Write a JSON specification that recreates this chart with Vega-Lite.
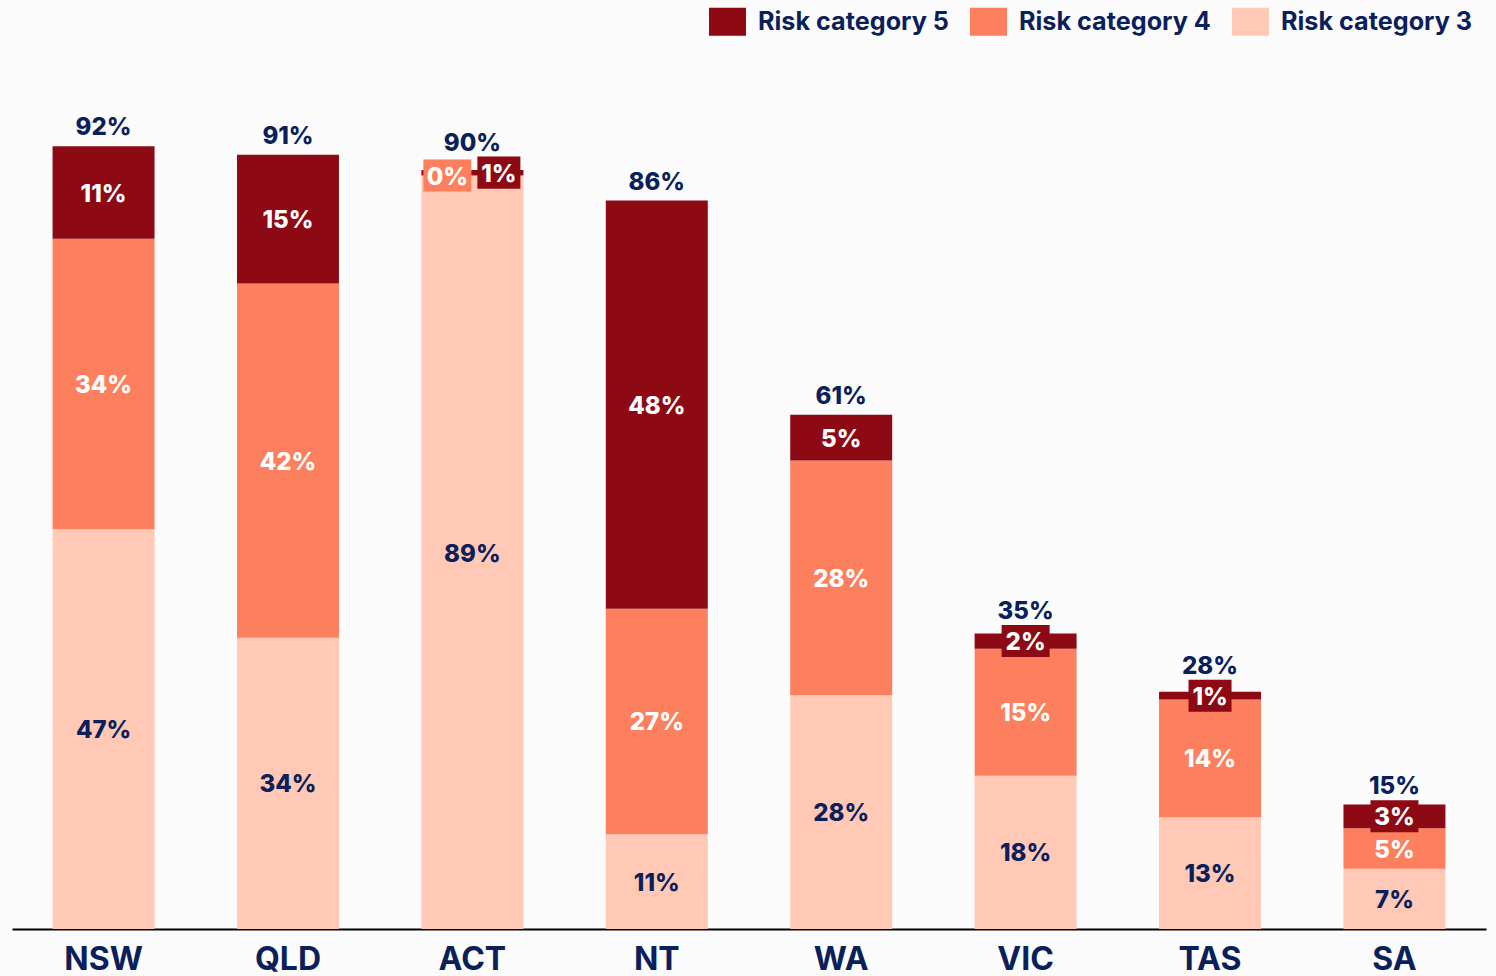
{
  "$schema": "https://vega.github.io/schema/vega-lite/v6.json",
  "width": 1474,
  "height": 847,
  "autosize": {"type": "none"},
  "padding": {"left": 12, "top": 82, "right": 10, "bottom": 47},
  "background": "#fbfbfb",
  "config": {
    "view": {"stroke": null},
    "font": "Inter"
  },
  "data": {
    "values": [
      {"state": "NSW", "category": "Risk category 3", "value": 0.472},
      {"state": "NSW", "category": "Risk category 4", "value": 0.343},
      {"state": "NSW", "category": "Risk category 5", "value": 0.109},
      {"state": "QLD", "category": "Risk category 3", "value": 0.344},
      {"state": "QLD", "category": "Risk category 4", "value": 0.418},
      {"state": "QLD", "category": "Risk category 5", "value": 0.152},
      {"state": "ACT", "category": "Risk category 3", "value": 0.889},
      {"state": "ACT", "category": "Risk category 4", "value": 0.001},
      {"state": "ACT", "category": "Risk category 5", "value": 0.006},
      {"state": "NT", "category": "Risk category 3", "value": 0.112},
      {"state": "NT", "category": "Risk category 4", "value": 0.266},
      {"state": "NT", "category": "Risk category 5", "value": 0.482},
      {"state": "WA", "category": "Risk category 3", "value": 0.276},
      {"state": "WA", "category": "Risk category 4", "value": 0.277},
      {"state": "WA", "category": "Risk category 5", "value": 0.054},
      {"state": "VIC", "category": "Risk category 3", "value": 0.181},
      {"state": "VIC", "category": "Risk category 4", "value": 0.150},
      {"state": "VIC", "category": "Risk category 5", "value": 0.018},
      {"state": "TAS", "category": "Risk category 3", "value": 0.132},
      {"state": "TAS", "category": "Risk category 4", "value": 0.139},
      {"state": "TAS", "category": "Risk category 5", "value": 0.009},
      {"state": "SA", "category": "Risk category 3", "value": 0.071},
      {"state": "SA", "category": "Risk category 4", "value": 0.048},
      {"state": "SA", "category": "Risk category 5", "value": 0.028}
    ]
  },
  "transform": [
    {"stack": "value", "groupby": ["state"], "sort": [{"field": "category", "order": "ascending"}], "as": ["v0", "v1"]},
    {"fold": ["v0", "v1"], "as": ["edge", "pos"]},
    {"aggregate": [{"op": "mean", "field": "pos", "as": "mid"}], "groupby": ["state", "category", "value", "v0", "v1"]}
  ],
  "encoding": {
    "x": {
      "field": "state",
      "type": "nominal",
      "sort": ["NSW", "QLD", "ACT", "NT", "WA", "VIC", "TAS", "SA"],
      "scale": {"paddingInner": 0.447, "paddingOuter": 0.22},
      "axis": {
        "title": null,
        "labelAngle": 0,
        "ticks": false,
        "domainColor": "#000000",
        "domainWidth": 2,
        "labelFont": "Inter",
        "labelFontSize": 32,
        "labelFontWeight": "bold",
        "labelColor": "#0b1f5b",
        "labelPadding": 15
      }
    }
  },
  "layer": [
    {
      "mark": {"type": "bar"},
      "encoding": {
        "y": {"field": "v0", "type": "quantitative", "scale": {"domain": [0, 1]}, "axis": null},
        "y2": {"field": "v1"},
        "color": {
          "field": "category",
          "type": "nominal",
          "scale": {
            "domain": ["Risk category 5", "Risk category 4", "Risk category 3"],
            "range": ["#8d0a14", "#fc7f5e", "#ffc9b6"]
          },
          "legend": {
            "title": null,
            "orient": "none",
            "legendX": 697,
            "legendY": -79,
            "direction": "horizontal",
            "padding": 0,
            "symbolType": "M-1,-0.757H1V0.757H-1Z",
            "symbolSize": 1369,
            "symbolStrokeWidth": 0,
            "symbolOpacity": 1,
            "labelFont": "Inter",
            "labelFontSize": 25.2,
            "labelFontWeight": "bold",
            "labelColor": "#0b1f5b",
            "labelOffset": 12,
            "columnPadding": 21,
            "labelLimit": 400
          }
        }
      }
    },
    {
      "transform": [{"filter": "datum.value >= 0.04"}],
      "mark": {"type": "text", "font": "Inter", "fontSize": 24, "fontWeight": 800, "baseline": "middle", "dy": 2},
      "encoding": {
        "y": {"field": "mid", "type": "quantitative"},
        "text": {"field": "value", "type": "quantitative", "format": ".0%"},
        "color": {"condition": {"test": "datum.category == 'Risk category 3'", "value": "#0b1f5b"}, "value": "#ffffff"}
      }
    },
    {
      "transform": [{"filter": "datum.value < 0.04 && datum.state != 'ACT'"}],
      "mark": {"type": "point", "filled": true, "opacity": 1, "size": 2304},
      "encoding": {
        "y": {"field": "mid", "type": "quantitative"},
        "shape": {"condition": {"test": "round(datum.value * 100) == 1", "value": "M-0.896,-0.667H0.896V0.667H-0.896Z"}, "value": "M-1,-0.667H1V0.667H-1Z"},
        "color": {"condition": {"test": "datum.category == 'Risk category 5'", "value": "#8d0a14"}, "value": "#fc7f5e"}
      }
    },
    {
      "transform": [{"filter": "datum.state == 'ACT' && datum.category == 'Risk category 4'"}],
      "mark": {"type": "point", "filled": true, "opacity": 1, "size": 2304, "xOffset": -25, "shape": "M-1,-0.667H1V0.667H-1Z", "color": "#fc7f5e"},
      "encoding": {
        "y": {"field": "mid", "type": "quantitative"}
      }
    },
    {
      "transform": [{"filter": "datum.state == 'ACT' && datum.category == 'Risk category 5'"}],
      "mark": {"type": "point", "filled": true, "opacity": 1, "size": 2304, "xOffset": 26.5, "shape": "M-0.896,-0.667H0.896V0.667H-0.896Z", "color": "#8d0a14"},
      "encoding": {
        "y": {"field": "mid", "type": "quantitative"}
      }
    },
    {
      "transform": [{"filter": "datum.value < 0.04 && datum.state != 'ACT'"}],
      "mark": {"type": "text", "font": "Inter", "fontSize": 24, "fontWeight": 800, "baseline": "middle", "color": "#ffffff", "dy": 2},
      "encoding": {
        "y": {"field": "mid", "type": "quantitative"},
        "text": {"field": "value", "type": "quantitative", "format": ".0%"}
      }
    },
    {
      "transform": [{"filter": "datum.state == 'ACT' && datum.category == 'Risk category 4'"}],
      "mark": {"type": "text", "font": "Inter", "fontSize": 24, "fontWeight": 800, "baseline": "middle", "color": "#ffffff", "dx": -25, "dy": 2},
      "encoding": {
        "y": {"field": "mid", "type": "quantitative"},
        "text": {"field": "value", "type": "quantitative", "format": ".0%"}
      }
    },
    {
      "transform": [{"filter": "datum.state == 'ACT' && datum.category == 'Risk category 5'"}],
      "mark": {"type": "text", "font": "Inter", "fontSize": 24, "fontWeight": 800, "baseline": "middle", "color": "#ffffff", "dx": 26.5, "dy": 2},
      "encoding": {
        "y": {"field": "mid", "type": "quantitative"},
        "text": {"field": "value", "type": "quantitative", "format": ".0%"}
      }
    },
    {
      "transform": [{"filter": "datum.category == 'Risk category 5' && datum.value >= 0.04"}],
      "mark": {"type": "text", "font": "Inter", "fontSize": 24, "fontWeight": 800, "baseline": "alphabetic", "color": "#0b1f5b", "dy": -11},
      "encoding": {
        "y": {"field": "v1", "type": "quantitative"},
        "text": {"field": "v1", "type": "quantitative", "format": ".0%"}
      }
    },
    {
      "transform": [{"filter": "datum.category == 'Risk category 5' && datum.value < 0.04"}],
      "mark": {"type": "text", "font": "Inter", "fontSize": 24, "fontWeight": 800, "baseline": "alphabetic", "color": "#0b1f5b", "dy": -22},
      "encoding": {
        "y": {"field": "mid", "type": "quantitative"},
        "text": {"field": "v1", "type": "quantitative", "format": ".0%"}
      }
    }
  ]
}
